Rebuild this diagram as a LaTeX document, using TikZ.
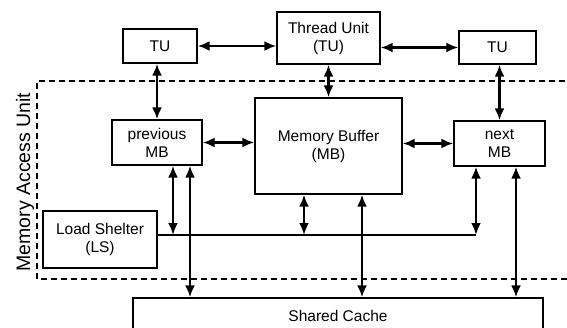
\documentclass[tikz,border=0pt]{standalone}
\usepackage{fontspec}
\setmainfont{Liberation Sans}
\usetikzlibrary{arrows.meta}
\begin{document}
\begin{tikzpicture}[x=1pt,y=-1pt,
  unit/.style={draw, line width=1.4pt, inner sep=0pt, align=center,
    font=\fontsize{15.5}{18}\selectfont},
  link/.style={line width=2.6pt, {Latex[length=12pt,width=10pt]}-{Latex[length=12pt,width=10pt]}},
  bus/.style={line width=2.8pt},
  region/.style={draw, line width=1.3pt, dash pattern=on 6pt off 4pt}]
\useasboundingbox (0,0) rectangle (567,327);

% memory access unit frame (open to the right)
\draw[region] (575,81) -- (37,81) -- (37,279) -- (575,279);
\node[rotate=90, font=\fontsize{19.5}{22}\selectfont] (mau) at (25,182) {Memory Access Unit};

% thread units
\node[unit, minimum width=74pt, minimum height=34pt] (tul) at (160,46) {TU};
\node[unit, minimum width=103pt, minimum height=52pt] (tu) at (328.5,38) {Thread Unit\\(TU)};
\node[unit, minimum width=77pt, minimum height=33pt] (tur) at (497.5,47.5) {TU};

% memory buffers
\node[unit, minimum width=90pt, minimum height=45pt] (pmb) at (157,142.5) {previous\\MB};
\node[unit, minimum width=147pt, minimum height=96pt] (mb) at (328.5,146) {Memory Buffer\\(MB)};
\node[unit, minimum width=91pt, minimum height=45pt] (nmb) at (499.5,143.5) {next\\MB};

% load shelter and shared cache
\node[unit, minimum width=114pt, minimum height=57pt] (ls) at (100,239.5) {Load Shelter\\(LS)};
\node[unit, minimum width=410pt, minimum height=36pt] (cache) at (338,316) {Shared Cache};

% load shelter bus
\coordinate (bus) at (476,235);
\draw[bus] (ls.east |- bus) -- (bus);

% thread unit ring
\draw[link] (tul.east) -- (tul.east -| tu.west);
\draw[link] (tu.east |- tur.west) -- (tur.west);

% thread units to memory buffers
\draw[link] (tul.south -| pmb.north) -- (pmb.north);
\draw[link] (tu.south) -- (mb.north);
\draw[link] (tur.south -| nmb.north) -- (nmb.north);

% memory buffer neighbours
\draw[link] (pmb.east) -- (pmb.east -| mb.west);
\draw[link] (nmb.west -| mb.east) -- (nmb.west);

% buffers to bus and shared cache
\draw[link] ([xshift=16pt]pmb.south) -- ([xshift=16pt]pmb.south |- bus);
\draw[link] ([xshift=33pt]pmb.south) -- ([xshift=33pt]pmb.south |- cache.north);
\draw[link] ([xshift=-24.5pt]mb.south) -- ([xshift=-24.5pt]mb.south |- bus);
\draw[link] ([xshift=33.5pt]mb.south) -- ([xshift=33.5pt]mb.south |- cache.north);
\draw[link] (bus |- nmb.south) -- (bus);
\draw[link] ([xshift=16.5pt]nmb.south) -- ([xshift=16.5pt]nmb.south |- cache.north);
\end{tikzpicture}
\end{document}
